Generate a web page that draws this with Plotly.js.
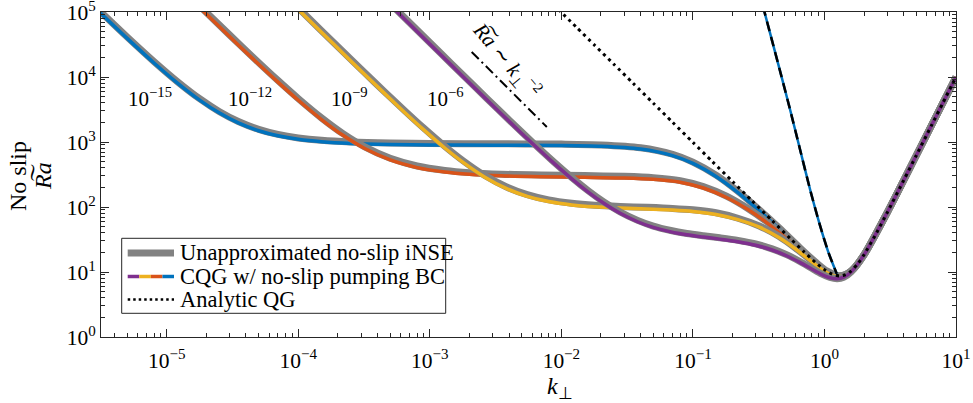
<!DOCTYPE html>
<html><head><meta charset="utf-8">
<script src="https://cdn.plot.ly/plotly-3.0.1.min.js"></script>
<style>html,body{margin:0;padding:0;background:#fff}#chart{width:973px;height:403px}</style>
</head><body><div id="chart"></div>
<script>
// ---- data ----
const ekmanLabels = ['10<sup>\u221215</sup>', '10<sup>\u221212</sup>', '10<sup>\u22129</sup>', '10<sup>\u22126</sup>'];

const kBlue = [3.0e-6, 5e-6, 8e-6, 1.2e-5, 1.8e-5, 2.5e-5, 3.5e-5, 5e-5, 7e-5, 1e-4, 1.5e-4, 2.5e-4, 5e-4, 1e-3, 3e-3, 0.01, 0.02, 0.04, 0.07, 0.1, 0.15, 0.22, 0.32, 0.45, 0.65, 0.85, 1.05, 1.3, 1.6, 2, 3, 5, 7, 10];
const raBlueCQG = [104900, 39290, 16450, 8140, 4335, 2810, 1968, 1490, 1245, 1100, 1010, 952, 918, 903, 893, 884, 860, 778, 617, 468, 294, 166, 87, 46.25, 22.94, 13.97, 10.08, 8.66, 10.39, 18.46, 82.1, 625.4, 2401, 10000];
const raBlueNSE = [110100, 41250, 17270, 8550, 4550, 2950, 2066, 1565, 1307, 1155, 1060, 1000, 964, 948, 938, 928, 903, 817, 648, 491, 309, 174, 90.5, 48.1, 23.6, 14.4, 10.3, 8.75, 10.39, 18.46, 82.1, 625.4, 2401, 10000];

const kOrange = [1.85e-5, 3e-5, 4.5e-5, 7e-5, 1e-4, 1.5e-4, 2.2e-4, 3.2e-4, 5e-4, 8e-4, 1.3e-3, 2e-3, 3.5e-3, 7e-3, 0.015, 0.03, 0.05, 0.08, 0.12, 0.18, 0.26, 0.37, 0.5, 0.65, 0.85, 1.05, 1.3, 1.6, 2, 3, 5, 7, 10];
const raOrangeCQG = [108200, 41950, 19170, 8346, 4385, 2218, 1256, 793, 529, 404, 345, 319, 302, 292.4, 286.7, 279.5, 266.8, 241.1, 196, 140, 92, 56, 34.2, 21.8, 13.56, 9.9, 8.58, 10.36, 18.45, 82.1, 625.4, 2401, 10000];
const raOrangeNSE = [114700, 44470, 20320, 8850, 4650, 2350, 1330, 840, 561, 428, 366, 338, 320, 310, 304, 296, 283, 255, 207, 147, 95.7, 58.2, 35.2, 22.4, 13.8, 10.0, 8.6, 10.36, 18.45, 82.1, 625.4, 2401, 10000];

const kYellow = [1.0e-4, 1.5e-4, 2.2e-4, 3.2e-4, 4.5e-4, 6.5e-4, 9e-4, 1.3e-3, 1.8e-3, 2.6e-3, 3.8e-3, 5.5e-3, 8e-3, 0.012, 0.018, 0.028, 0.045, 0.07, 0.1, 0.15, 0.22, 0.32, 0.45, 0.6, 0.8, 1.0, 1.2, 1.4, 1.7, 2, 3, 5, 7, 10];
const raYellowCQG = [109100, 48760, 22860, 10950, 5647, 2802, 1536, 808, 481, 290, 193, 146, 121.3, 107.7, 100.6, 96.3, 93.1, 89.6, 85.3, 76.8, 63.9, 49, 34, 22.8, 14.4, 10.3, 8.7, 8.75, 11.75, 18.45, 82.1, 625.4, 2401, 10000];
const raYellowNSE = [115600, 51690, 24230, 11600, 5986, 2970, 1628, 856, 510, 307, 205, 155, 128.6, 114.2, 106.6, 102, 98.7, 95, 90.4, 81.4, 67.1, 51, 35.4, 23.5, 14.8, 10.5, 8.8, 8.8, 11.75, 18.45, 82.1, 625.4, 2401, 10000];

const kPurple = [5.5e-4, 8e-4, 1.2e-3, 1.8e-3, 2.7e-3, 4e-3, 6e-3, 8.5e-3, 0.012, 0.016, 0.021, 0.028, 0.038, 0.05, 0.068, 0.09, 0.12, 0.16, 0.22, 0.3, 0.4, 0.52, 0.65, 0.8, 0.95, 1.1, 1.25, 1.4, 1.6, 2, 3, 5, 7, 10];
const raPurpleCQG = [106200, 50280, 22420, 10020, 4496, 2082, 954, 498.4, 270.9, 169.5, 114.1, 79.9, 59.3, 48.5, 41.4, 37.35, 34.46, 32.05, 29.23, 25.8, 21.8, 17.63, 14.06, 11.12, 9.21, 8.17, 7.9, 8.35, 10.13, 18.4, 82.2, 625.4, 2401, 10000];
const raPurpleNSE = [111500, 52800, 23540, 10520, 4720, 2186, 1002, 523, 284.4, 178, 119.8, 83.9, 62.3, 50.9, 43.5, 39.2, 36.2, 33.65, 30.7, 27.1, 22.7, 18.3, 14.5, 11.4, 9.35, 8.25, 7.9, 8.3, 10.1, 18.4, 82.2, 625.4, 2401, 10000];

const kQG = [0.0095, 0.013, 0.018, 0.025, 0.035, 0.05, 0.07, 0.1, 0.14, 0.2, 0.28, 0.4, 0.55, 0.7, 0.85, 1.0, 1.15, 1.3, 1.45, 1.6, 1.8, 2.0, 2.5, 3, 4, 5, 6.5, 8, 10];
const raQG = [109360, 58400, 30460, 15791, 8057, 3948, 2014, 987, 503.6, 246.7, 125.9, 61.7, 32.72, 20.38, 14.18, 10.87, 9.21, 8.70, 9.115, 10.41, 13.54, 18.47, 40.64, 82.1, 256.6, 625.4, 1785.3, 4096.2, 10000];

const kSteep = [0.34, 0.4, 0.47, 0.55, 0.65, 0.78, 0.92, 1.07, 1.24];
const raSteep = [124700, 35900, 10400, 3050, 789, 181, 54, 20.2, 9.4];

const kScaling = [2.08e-3, 7.75e-3];
const raScaling = [24300, 1700];

const xTickVals = [1e-5, 1e-4, 1e-3, 1e-2, 1e-1, 1, 10];
const xTickText = ['10<sup>\u22125</sup>', '10<sup>\u22124</sup>', '10<sup>\u22123</sup>', '10<sup>\u22122</sup>', '10<sup>\u22121</sup>', '10<sup>0</sup>', '10<sup>1</sup>'];
const yTickVals = [1, 10, 100, 1000, 10000, 100000];
const yTickText = ['10<sup>0</sup>', '10<sup>1</sup>', '10<sup>2</sup>', '10<sup>3</sup>', '10<sup>4</sup>', '10<sup>5</sup>'];

const legendLabels = ['Unapproximated no-slip iNSE', 'CQG w/ no-slip pumping BC', 'Analytic QG'];

// ---- styling ----
const FONT = 'Liberation Serif, Times New Roman, serif';
const INK = '#262626';
const GRAY = '#828282';
const COLORS = {blue: '#0072BD', orange: '#D95319', yellow: '#EDB120', purple: '#7E2F8E'};

function minorTicks(lo, hi) {
  const v = [];
  for (let d = lo; d <= hi; d++) for (let m = 2; m <= 9; m++) v.push(m * Math.pow(10, d));
  return v;
}

const series = [
  [kBlue, raBlueNSE, raBlueCQG, COLORS.blue],
  [kOrange, raOrangeNSE, raOrangeCQG, COLORS.orange],
  [kYellow, raYellowNSE, raYellowCQG, COLORS.yellow],
  [kPurple, raPurpleNSE, raPurpleCQG, COLORS.purple]
];

const traces = [];
series.forEach(([k, nse, cqg, col]) => {
  traces.push({x: k, y: nse, mode: 'lines', line: {color: GRAY, width: 7, shape: 'spline', smoothing: 0.8}, hoverinfo: 'skip', showlegend: false});
  traces.push({x: k, y: cqg, mode: 'lines', line: {color: col, width: 3.5, shape: 'spline', smoothing: 0.8}, hoverinfo: 'skip', showlegend: false});
});
traces.push({x: kQG, y: raQG, mode: 'lines', line: {color: '#000', width: 3, dash: '3px,4px', shape: 'spline', smoothing: 0.6}, showlegend: false});
traces.push({x: kSteep, y: raSteep, mode: 'lines', line: {color: COLORS.blue, width: 2.5, shape: 'spline', smoothing: 0.6}, showlegend: false});
traces.push({x: kSteep, y: raSteep, mode: 'lines', line: {color: '#000', width: 2.5, dash: '10px,6px', shape: 'spline', smoothing: 0.6}, showlegend: false});
traces.push({x: kScaling, y: raScaling, mode: 'lines', line: {color: '#000', width: 2, dash: '10px,4px,2px,4px'}, showlegend: false});

const axisCommon = {
  type: 'log', tickmode: 'array', ticks: 'inside', ticklen: 8, tickwidth: 1, tickcolor: INK,
  showline: true, linecolor: INK, linewidth: 1, mirror: 'ticks', showgrid: false, zeroline: false,
  ticklabeloverflow: 'allow',
  tickfont: {family: FONT, size: 21.5, color: '#000'}
};

const px = (p) => (p - 101) / 855;
const py = (p) => (337 - p) / 325;

const annotations = [];
const labelX = [150, 250, 349, 445];
ekmanLabels.forEach((t, i) => annotations.push({xref: 'paper', yref: 'paper', x: px(labelX[i]), y: py(98), text: t, showarrow: false, xanchor: 'center', yanchor: 'middle', font: {family: FONT, size: 21, color: '#000'}}));
annotations.push({xref: 'paper', yref: 'paper', x: px(506), y: py(60), text: '<i>R\u0360a</i> \u223C <i>k</i><sub>\u22A5</sub><sup>\u22122</sup>', textangle: 50, showarrow: false, xanchor: 'center', yanchor: 'middle', font: {family: FONT, size: 21, color: '#000'}});
annotations.push({xref: 'paper', yref: 'paper', x: px(18), y: py(176), text: 'No slip', textangle: -90, showarrow: false, xanchor: 'center', yanchor: 'middle', font: {family: FONT, size: 24, color: '#000'}});
annotations.push({xref: 'paper', yref: 'paper', x: px(43), y: py(176), text: '<i>R\u0360a</i>', textangle: -90, showarrow: false, xanchor: 'center', yanchor: 'middle', font: {family: FONT, size: 24, color: '#000'}});
annotations.push({xref: 'paper', yref: 'paper', x: px(560), y: py(388), text: '<i>k</i><sub>\u22A5</sub>', showarrow: false, xanchor: 'center', yanchor: 'middle', font: {family: FONT, size: 24, color: '#000'}});

// manual legend
const rowY = [253, 276.5, 299.5];
const shapes = [
  {type: 'rect', xref: 'paper', yref: 'paper', x0: px(121.7), x1: px(445.7), y0: py(313.3), y1: py(238.3), line: {color: INK, width: 1}, fillcolor: '#fff', layer: 'above'},
  {type: 'line', xref: 'paper', yref: 'paper', x0: px(127.7), x1: px(174), y0: py(rowY[0]), y1: py(rowY[0]), line: {color: GRAY, width: 7}, layer: 'above'}
];
const segCols = [COLORS.purple, COLORS.yellow, COLORS.orange, COLORS.blue];
segCols.forEach((c, i) => shapes.push({type: 'line', xref: 'paper', yref: 'paper', x0: px(127.7 + i * 11.58), x1: px(127.7 + (i + 1) * 11.58), y0: py(rowY[1]), y1: py(rowY[1]), line: {color: c, width: 3.5}, layer: 'above'}));
shapes.push({type: 'line', xref: 'paper', yref: 'paper', x0: px(127.7), x1: px(174), y0: py(rowY[2]), y1: py(rowY[2]), line: {color: '#000', width: 2.5, dash: '2.5px,3px'}, layer: 'above'});
legendLabels.forEach((t, i) => annotations.push({xref: 'paper', yref: 'paper', x: px(178), y: py(rowY[i]), text: t, showarrow: false, xanchor: 'left', yanchor: 'middle', font: {family: FONT, size: 22.5, color: '#000'}}));

const layout = {
  width: 973, height: 403,
  margin: {l: 101, r: 17, t: 12, b: 66},
  paper_bgcolor: '#fff', plot_bgcolor: '#fff',
  showlegend: false,
  xaxis: Object.assign({}, axisCommon, {range: [-5.5, 1.00001], tickvals: xTickVals, ticktext: xTickText, ticklabelstandoff: 4,
    minor: {tickmode: 'array', tickvals: minorTicks(-6, 0).filter(v => v > 3.17e-6 && v < 10), ticks: 'inside', ticklen: 4, tickcolor: INK, tickwidth: 1, showgrid: false}}),
  yaxis: Object.assign({}, axisCommon, {range: [-0.00001, 5.00001], tickvals: yTickVals, ticktext: yTickText,
    minor: {tickmode: 'array', tickvals: minorTicks(0, 4), ticks: 'inside', ticklen: 4, tickcolor: INK, tickwidth: 1, showgrid: false}}),
  annotations: annotations,
  shapes: shapes
};

Plotly.newPlot('chart', traces, layout, {staticPlot: true, displayModeBar: false});
</script>
</body></html>
